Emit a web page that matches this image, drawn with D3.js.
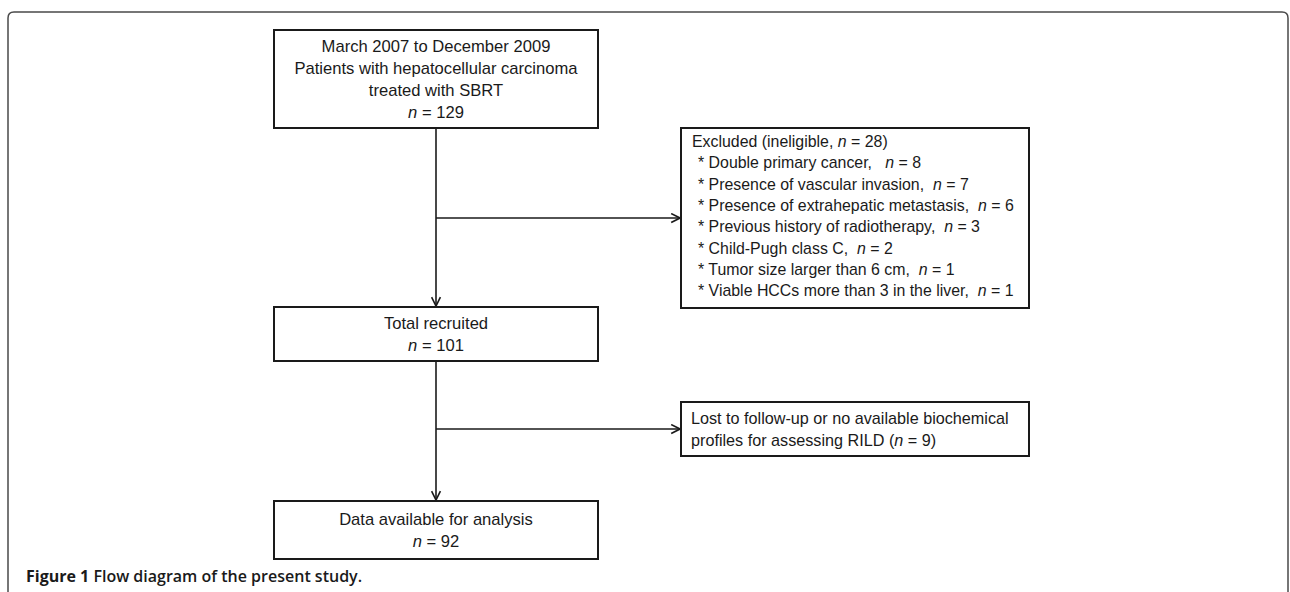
<!DOCTYPE html>
<html>
<head>
<meta charset="utf-8">
<script src="https://cdn.jsdelivr.net/npm/d3@7"></script>
<style>
  html, body { margin: 0; padding: 0; background: #fff; }
  svg text { font-family: "Liberation Sans", Arial, sans-serif; fill: #1a1a1a; white-space: pre; }
</style>
</head>
<body>
<svg id="flow"></svg>
<script>
// stages of the study flow
const stageLines = [
  ["March 2007 to December 2009", "Patients with hepatocellular carcinoma", "treated with SBRT"],
  ["Total recruited"],
  ["Data available for analysis"]
];
const stageCounts = [129, 101, 92];

// exclusions between stage 1 and 2
const excludedTitle = "Excluded (ineligible, ";
const excludedTotal = 28;
const exclusionReasons = [
  "Double primary cancer,   ",
  "Presence of vascular invasion,  ",
  "Presence of extrahepatic metastasis,  ",
  "Previous history of radiotherapy,  ",
  "Child-Pugh class C,  ",
  "Tumor size larger than 6 cm,  ",
  "Viable HCCs more than 3 in the liver,  "
];
const exclusionCounts = [8, 7, 6, 3, 2, 1, 1];

// losses between stage 2 and 3
const lossLines = ["Lost to follow-up or no available biochemical", "profiles for assessing RILD ("];
const lossCount = 9;

const caption = ["Figure 1", " Flow diagram of the present study."];

const width = 1290, height = 592;
const svg = d3.select("#flow").attr("width", width).attr("height", height);

// arrow head
svg.append("defs").append("marker")
    .attr("id", "arr")
    .attr("viewBox", "0 0 10 10")
    .attr("refX", 9).attr("refY", 5)
    .attr("markerWidth", 11).attr("markerHeight", 11)
    .attr("markerUnits", "userSpaceOnUse")
    .attr("orient", "auto")
  .append("path")
    .attr("d", "M1,1 L9,5 L1,9")
    .attr("fill", "none")
    .attr("stroke", "#1a1a1a")
    .attr("stroke-width", 1.5);

// outer frame (open at the bottom)
svg.append("path")
    .attr("d", "M8,600 V18 Q8,12 14,12 H1282 Q1288,12 1288,18 V600")
    .attr("fill", "none")
    .attr("stroke", "#4a4a4a")
    .attr("stroke-width", 1.5);

// layout of the main column
const mainX = 274, mainW = 324;
const mainBoxes = [
  {y: 30, h: 98}, {y: 307, h: 54}, {y: 501, h: 58}
];
const lineH = 21.8;
const cx = mainX + mainW / 2;

const boxStyle = sel => sel
    .attr("fill", "#fff")
    .attr("stroke", "#1a1a1a")
    .attr("stroke-width", 2);

// connectors
const flowY = [[mainBoxes[0].y + mainBoxes[0].h, mainBoxes[1].y], [mainBoxes[1].y + mainBoxes[1].h, mainBoxes[2].y]];
svg.selectAll(".down")
  .data(flowY)
  .join("line")
    .attr("x1", cx).attr("x2", cx)
    .attr("y1", d => d[0]).attr("y2", d => d[1] - 1)
    .attr("stroke", "#1a1a1a").attr("stroke-width", 1.6)
    .attr("marker-end", "url(#arr)");

const sideX = 681, sideW = 348;
const sideBoxes = [{y: 128, h: 180}, {y: 402, h: 54}];
svg.selectAll(".side")
  .data(sideBoxes)
  .join("line")
    .attr("x1", cx).attr("x2", sideX - 1)
    .attr("y1", d => d.y + d.h / 2).attr("y2", d => d.y + d.h / 2)
    .attr("stroke", "#1a1a1a").attr("stroke-width", 1.6)
    .attr("marker-end", "url(#arr)");

// main boxes
const mg = svg.selectAll(".stage")
  .data(stageLines.map((lines, i) => ({lines, n: stageCounts[i], box: mainBoxes[i]})))
  .join("g");

mg.append("rect")
    .attr("x", mainX).attr("y", d => d.box.y)
    .attr("width", mainW).attr("height", d => d.box.h)
    .call(boxStyle);

mg.each(function(d) {
  const g = d3.select(this);
  const nLines = d.lines.length + 1;
  const b1 = d.box.y + d.box.h / 2 - ((nLines - 1) * lineH - 11.8) / 2;
  d.lines.forEach((t, j) => {
    g.append("text")
      .attr("x", cx).attr("y", b1 + j * lineH)
      .attr("text-anchor", "middle")
      .style("font-size", "16.6px")
      .text(t);
  });
  const nt = g.append("text")
      .attr("x", cx).attr("y", b1 + d.lines.length * lineH)
      .attr("text-anchor", "middle")
      .style("font-size", "16.6px");
  nt.append("tspan").style("font-style", "italic").text("n");
  nt.append("tspan").text(" = " + d.n);
});

// excluded box
const ex = svg.append("g");
ex.append("rect")
    .attr("x", sideX).attr("y", sideBoxes[0].y)
    .attr("width", sideW).attr("height", sideBoxes[0].h)
    .call(boxStyle);

const exB1 = 147, exH = 21.3;
const t0 = ex.append("text").attr("x", sideX + 11).attr("y", exB1).style("font-size", "15.9px");
t0.append("tspan").text(excludedTitle);
t0.append("tspan").style("font-style", "italic").text("n");
t0.append("tspan").text(" = " + excludedTotal + ")");

ex.selectAll(".reason")
  .data(exclusionReasons.map((r, i) => ({r, n: exclusionCounts[i]})))
  .join("text")
    .attr("x", sideX + 17)
    .attr("y", (d, i) => exB1 + (i + 1) * exH)
    .style("font-size", "15.9px")
    .each(function(d) {
      const t = d3.select(this);
      t.append("tspan").text("* " + d.r);
      t.append("tspan").style("font-style", "italic").text("n");
      t.append("tspan").text(" = " + d.n);
    });

// loss box
const lo = svg.append("g");
lo.append("rect")
    .attr("x", sideX).attr("y", sideBoxes[1].y)
    .attr("width", sideW).attr("height", sideBoxes[1].h)
    .call(boxStyle);
lo.append("text").attr("x", sideX + 10).attr("y", 424).style("font-size", "16.2px").text(lossLines[0]);
const l2 = lo.append("text").attr("x", sideX + 10).attr("y", 446).style("font-size", "16.2px");
l2.append("tspan").text(lossLines[1]);
l2.append("tspan").style("font-style", "italic").text("n");
l2.append("tspan").text(" = " + lossCount + ")");

// caption
const cap = svg.append("text")
    .attr("x", 26).attr("y", 582)
    .style("font-family", "'Open Sans', sans-serif")
    .style("font-size", "16px");
cap.append("tspan").style("font-weight", 700).text(caption[0]);
cap.append("tspan").style("font-weight", 600).text(caption[1]);
</script>
</body>
</html>
